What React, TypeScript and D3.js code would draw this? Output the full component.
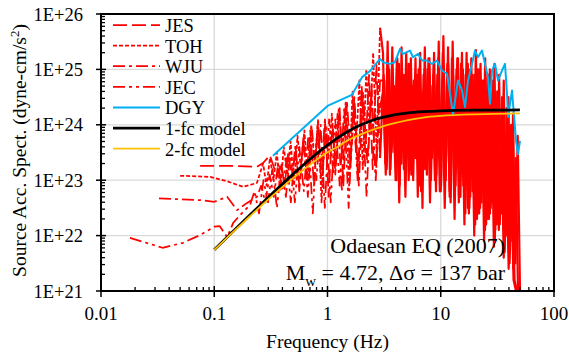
import React from 'react';
import * as d3 from 'd3';

const X_TICKS = [0.01, 0.1, 1, 10, 100];
const X_TICK_LABELS = ['0.01', '0.1', '1', '10', '100'];
const Y_TICKS = [1e21, 1e22, 1e23, 1e24, 1e25, 1e26];
const Y_TICK_LABELS = ['1E+21', '1E+22', '1E+23', '1E+24', '1E+25', '1E+26'];

const LEGEND_LABELS = ['JES', 'TOH', 'WJU', 'JEC', 'DGY', '1-fc model', '2-fc model'];

// ---- Observed spectra (log10 of amplitude) ----
// JES
const JES_TAIL_F = [0.075, 0.138, 0.238, 0.27, 0.31, 0.358];
const JES_TAIL_LOG = [23.26, 23.26, 23.24, 23.31, 23.45, 23.06];
const JES_LOW_RANGE = [0.388, 2.91];
const JES_LOW_LOG = [23.3, 22.9, 23.5, 23.0, 23.6, 22.8, 23.7, 23.1, 23.9, 22.9, 24.0, 23.2, 24.1, 22.7, 24.0, 23.3, 24.3, 22.9, 24.4, 23.4, 24.5, 23.0, 24.7, 23.5, 24.9, 23.2, 25.1, 23.4];
const JES_HIGH_RANGE = [3.13, 48.1];
const JES_HIGH_LOG = [
  24.9, 23.4, 25.1, 23.2, 24.7, 23.5, 25.2, 22.9, 24.9, 23.3,
  25.1, 23.0, 24.8, 23.4, 25.2, 22.7, 24.9, 23.3, 25.0, 23.1,
  24.9, 23.4, 25.1, 22.8, 24.9, 23.2, 25.3, 23.0, 25.1, 22.7,
  25.2, 23.0, 25.0, 22.6, 25.1, 22.9, 24.9, 22.5, 25.0, 22.8,
  24.9, 22.3, 25.0, 22.6, 24.8, 22.2, 24.9, 22.5, 24.8, 22.1,
  24.6, 22.3, 24.5, 21.9, 24.3, 21.7, 24.0, 21.4, 23.4, 21.0];

// TOH
const TOH_TAIL_F = [0.05, 0.092, 0.13, 0.18, 0.238];
const TOH_TAIL_LOG = [23.08, 23.06, 22.98, 22.88, 22.95];
const TOH_LOW_RANGE = [0.27, 2.91];
const TOH_LOW_LOG = [23.3, 22.9, 23.4, 23.0, 23.5, 22.8, 23.6, 23.1, 23.7, 22.9, 23.8, 23.2, 23.9, 23.0, 24.0, 23.3, 24.1, 22.6, 24.0, 23.4, 24.2, 23.1, 24.3, 23.5, 24.4, 22.9, 24.6, 23.6, 24.8, 23.2, 25.0, 23.8, 25.3, 23.5, 25.75];
const TOH_HIGH_RANGE = [3.09, 50.1];
const TOH_HIGH_LOG = [
  25.3, 23.3, 25.5, 23.1, 25.4, 23.5, 25.2, 22.6, 25.4, 23.2,
  25.3, 23.4, 25.2, 23.0, 24.9, 23.5, 25.3, 22.5, 25.4, 23.2,
  25.2, 23.4, 25.3, 23.1, 25.5, 22.9, 25.6, 23.0, 25.4, 22.7,
  25.5, 23.1, 25.2, 22.8, 25.3, 23.0, 25.3, 22.4, 25.2, 22.9,
  25.35, 22.4, 25.1, 22.8, 25.2, 22.3, 25.0, 22.6, 25.1, 22.2,
  24.9, 22.4, 24.8, 22.0, 24.5, 21.9, 24.2, 21.5, 23.8, 21.0];

// WJU
const WJU_TAIL_F = [0.0325, 0.075, 0.1, 0.13, 0.159, 0.195];
const WJU_TAIL_LOG = [22.67, 22.64, 22.61, 22.70, 22.46, 22.59];
const WJU_LOW_RANGE = [0.238, 2.91];
const WJU_LOW_LOG = [22.70, 22.9, 22.6, 23.1, 22.7, 23.3, 22.8, 23.4, 22.6, 23.6, 22.9, 23.8, 22.7, 23.9, 23.0, 24.0, 22.5, 24.1, 23.1, 24.2, 22.8, 24.3, 23.2, 24.4, 22.9, 24.6, 23.3, 24.7, 23.0, 24.8];
const WJU_HIGH_RANGE = [3.17, 47.1];
const WJU_HIGH_LOG = [
  24.8, 23.2, 25.0, 23.5, 24.7, 23.0, 25.1, 23.3, 24.9, 23.6,
  25.1, 23.1, 24.8, 23.4, 25.0, 22.8, 24.9, 23.3, 25.2, 23.0,
  24.9, 23.2, 25.2, 22.8, 25.0, 23.1, 25.1, 22.6, 24.9, 22.9,
  25.2, 22.7, 25.0, 22.4, 25.1, 22.7, 24.9, 22.2, 25.0, 22.5,
  24.8, 22.1, 24.9, 22.4, 24.6, 21.9, 24.6, 22.2, 24.2, 21.7,
  23.8, 21.5, 23.3, 21.2, 21.0];

// JEC
const JEC_TAIL_F = [0.018, 0.035, 0.053, 0.075, 0.1, 0.112, 0.13, 0.147, 0.169];
const JEC_TAIL_LOG = [21.96, 21.78, 21.87, 22.01, 22.16, 22.17, 21.97, 22.23, 22.37];
const JEC_LOW_RANGE = [0.207, 2.91];
const JEC_LOW_LOG = [22.55, 22.8, 22.4, 23.0, 22.6, 23.2, 22.5, 23.3, 22.7, 23.5, 22.6, 23.6, 22.8, 23.8, 22.4, 23.9, 22.9, 24.0, 22.6, 24.1, 22.9, 24.3, 22.5, 24.4, 23.0, 24.5, 22.7, 24.6, 23.1, 24.3];
const JEC_HIGH_RANGE = [3.11, 46.2];
const JEC_HIGH_LOG = [
  24.6, 23.1, 24.8, 23.4, 24.6, 23.0, 24.9, 23.3, 24.5, 22.7,
  24.8, 23.2, 24.7, 23.4, 24.9, 22.9, 24.6, 23.2, 25.0, 22.6,
  24.7, 23.0, 24.9, 22.8, 24.8, 22.5, 25.0, 22.8, 24.7, 22.3,
  24.9, 22.7, 24.8, 22.2, 25.0, 22.5, 24.7, 22.0, 24.8, 22.4,
  24.6, 21.9, 24.6, 22.3, 24.4, 21.8, 24.3, 22.1, 23.9, 21.6,
  23.6, 21.4, 23.0, 21.2, 21.0];

// DGY
const DGY_F = [0.33, 1.0, 1.64, 2.02, 2.37, 2.91, 3.09, 3.56, 3.94, 4.37, 4.64, 5.35, 5.69, 6.30, 6.83, 7.56, 8.37, 9.27, 10.26, 11.36, 12.07, 12.84, 13.37, 14.2, 15.41, 16.38, 17.41, 18.89, 20.06, 21.32, 23.12, 24.58, 26.13, 27.22, 28.37, 30.13, 32.04, 34.75, 36.92, 38.46, 39.27, 42.6, 43.5, 46.2, 48.1, 50.1];
const DGY_LOG = [23.44, 24.34, 24.54, 24.86, 24.97, 25.19, 25.13, 25.10, 25.13, 25.37, 25.28, 25.34, 25.22, 25.28, 25.16, 25.16, 25.10, 25.16, 24.98, 24.92, 24.56, 24.18, 24.43, 24.80, 24.62, 24.32, 24.80, 25.10, 25.34, 25.22, 25.34, 25.10, 24.86, 24.38, 24.98, 25.10, 24.80, 24.98, 25.10, 24.56, 24.14, 24.62, 24.38, 23.71, 23.47, 23.71];

// Models
const MODEL_F = [0.1, 0.15, 0.2, 0.3, 0.5, 0.7, 1, 1.2, 1.5, 2, 2.5, 3, 4, 5, 7, 10, 20, 30, 50];
const ONE_FC = [5.57e21, 1.25e22, 2.21e22, 4.9e22, 1.3e23, 2.39e23, 4.29e23, 5.61e23, 7.49e23, 1.01e24, 1.21e24, 1.35e24, 1.53e24, 1.63e24, 1.73e24, 1.79e24, 1.835e24, 1.84e24, 1.85e24];
const TWO_FC = [5.5e21, 1.22e22, 2.1e22, 4.5e22, 1.1e23, 1.9e23, 3.2e23, 3.9e23, 5.2e23, 6.8e23, 8.1e23, 9.2e23, 1.08e24, 1.2e24, 1.35e24, 1.45e24, 1.55e24, 1.58e24, 1.6e24];

const FONT = "'Liberation Serif', 'Times New Roman', Times, serif";
const RED = '#FF0000';
const BLUE = '#00B0F0';
const ORANGE = '#FFC000';

type Pt = { f: number; v: number };

function logGrid(range: number[], n: number): number[] {
  const [a, b] = range;
  return d3.range(n).map((i) => a * Math.pow(b / a, n > 1 ? i / (n - 1) : 0));
}

function station(tailF: number[], tailLog: number[], lowR: number[], lowLog: number[], highR: number[], highLog: number[]) {
  const low: Pt[] = [];
  tailF.forEach((f, i) => low.push({ f, v: Math.pow(10, tailLog[i]) }));
  logGrid(lowR, lowLog.length).forEach((f, i) => low.push({ f, v: Math.pow(10, lowLog[i]) }));
  const high: Pt[] = [low[low.length - 1]];
  logGrid(highR, highLog.length).forEach((f, i) => high.push({ f, v: Math.pow(10, highLog[i]) }));
  return { low, high };
}

const TXT: React.CSSProperties = { fontFamily: FONT };

export default function App() {
  const W = 569, H = 358;
  const L = 101, R = 554, T = 14, B = 291;
  const x = d3.scaleLog().domain([0.01, 100]).range([L, R]);
  const y = d3.scaleLog().domain([1e21, 1e26]).range([B, T]);
  const line = d3.line<Pt>().x((d) => x(d.f)).y((d) => y(d.v));
  const smooth = d3.line<Pt>().x((d) => x(d.f)).y((d) => y(d.v)).curve(d3.curveMonotoneX);

  const jes = station(JES_TAIL_F, JES_TAIL_LOG, JES_LOW_RANGE, JES_LOW_LOG, JES_HIGH_RANGE, JES_HIGH_LOG);
  const toh = station(TOH_TAIL_F, TOH_TAIL_LOG, TOH_LOW_RANGE, TOH_LOW_LOG, TOH_HIGH_RANGE, TOH_HIGH_LOG);
  const wju = station(WJU_TAIL_F, WJU_TAIL_LOG, WJU_LOW_RANGE, WJU_LOW_LOG, WJU_HIGH_RANGE, WJU_HIGH_LOG);
  const jec = station(JEC_TAIL_F, JEC_TAIL_LOG, JEC_LOW_RANGE, JEC_LOW_LOG, JEC_HIGH_RANGE, JEC_HIGH_LOG);
  const dgy: Pt[] = DGY_F.map((f, i) => ({ f, v: Math.pow(10, DGY_LOG[i]) }));
  const one: Pt[] = MODEL_F.map((f, i) => ({ f, v: ONE_FC[i] }));
  const two: Pt[] = MODEL_F.map((f, i) => ({ f, v: TWO_FC[i] }));

  const styles = [
    { stroke: RED, width: 1.75, dash: '14,5' },
    { stroke: RED, width: 1.75, dash: '4,2' },
    { stroke: RED, width: 1.75, dash: '12,4,3,4' },
    { stroke: RED, width: 1.75, dash: '12,4,3,4,3,4' },
    { stroke: BLUE, width: 2, dash: undefined },
    { stroke: '#000000', width: 2.75, dash: undefined },
    { stroke: ORANGE, width: 1.75, dash: undefined },
  ];
  const series = [jes, toh, wju, jec];

  const minorX: number[] = [];
  for (let e = -2; e < 2; e++) for (let k = 2; k <= 9; k++) minorX.push(k * Math.pow(10, e));
  const minorY: number[] = [];
  for (let e = 21; e < 26; e++) for (let k = 2; k <= 9; k++) minorY.push(k * Math.pow(10, e));

  return (
    <svg width={W} height={H} style={{ position: 'absolute', left: 0, top: 0, background: '#fff', fontFamily: FONT }}>
      <defs>
        <clipPath id="plotclip">
          <rect x={L} y={T} width={R - L} height={B - T} />
        </clipPath>
      </defs>
      <rect x={0} y={0} width={W} height={H} fill="#fff" />
      {X_TICKS.slice(1, -1).map((t) => (
        <line key={'gx' + t} x1={x(t)} x2={x(t)} y1={T} y2={B} stroke="#d9d9d9" strokeWidth={1.3} />
      ))}
      {Y_TICKS.slice(1, -1).map((t) => (
        <line key={'gy' + t} x1={L} x2={R} y1={y(t)} y2={y(t)} stroke="#d9d9d9" strokeWidth={1.3} />
      ))}
      <g clipPath="url(#plotclip)">
        {series.map((s, i) => (
          <g key={'s' + i}>
            <path d={line(s.low) || ''} fill="none" stroke={styles[i].stroke} strokeWidth={styles[i].width} strokeDasharray={styles[i].dash} strokeLinejoin="round" />
            <path d={line(s.high) || ''} fill="none" stroke={styles[i].stroke} strokeWidth={2.2} strokeLinejoin="round" />
          </g>
        ))}
        <path d={line(dgy) || ''} fill="none" stroke={BLUE} strokeWidth={2} strokeLinejoin="round" />
        <path d={smooth(one) || ''} fill="none" stroke="#000" strokeWidth={2.75} />
        <path d={smooth(two) || ''} fill="none" stroke={ORANGE} strokeWidth={1.75} />
      </g>
      <rect x={L} y={T} width={R - L} height={B - T} fill="none" stroke="#000" strokeWidth={2} />
      {minorX.map((t) => (
        <line key={'mx' + t} x1={x(t)} x2={x(t)} y1={B - 4} y2={B} stroke="#000" strokeWidth={1.3} />
      ))}
      {X_TICKS.map((t) => (
        <line key={'tx' + t} x1={x(t)} x2={x(t)} y1={B - 5} y2={B + 6} stroke="#000" strokeWidth={1.5} />
      ))}
      {minorY.map((t) => (
        <line key={'my' + t} x1={L} x2={L + 4} y1={y(t)} y2={y(t)} stroke="#000" strokeWidth={1.3} />
      ))}
      {Y_TICKS.map((t) => (
        <line key={'ty' + t} x1={L - 5} x2={L + 5} y1={y(t)} y2={y(t)} stroke="#000" strokeWidth={1.5} />
      ))}
      {X_TICKS.map((t, i) => (
        <text key={'lx' + t} style={TXT} x={x(t)} y={320} textAnchor="middle" fontSize={19} fill="#000">{X_TICK_LABELS[i]}</text>
      ))}
      {Y_TICKS.map((t, i) => (
        <text key={'ly' + t} style={TXT} x={83} y={y(t) + 6.5} textAnchor="end" fontSize={18.5} fill="#000">{Y_TICK_LABELS[i]}</text>
      ))}
      <text style={TXT} x={(L + R) / 2} y={348} textAnchor="middle" fontSize={19.5} fill="#000">Frequency (Hz)</text>
      <text style={TXT} transform={`translate(26,${(T + B) / 2 - 2}) rotate(-90)`} textAnchor="middle" fontSize={19.5} fill="#000">
        Source Acc. Spect. (dyne-cm/s<tspan baselineShift="super" fontSize={13}>2</tspan>)
      </text>
      {LEGEND_LABELS.map((lab, i) => {
        const ly = 25 + i * 20.6;
        const st = styles[i];
        return (
          <g key={'lg' + i}>
            <line x1={113} x2={160} y1={ly} y2={ly} stroke={st.stroke} strokeWidth={st.width} strokeDasharray={st.dash} />
            <text style={TXT} x={165} y={ly + 7} fontSize={18.5} fill="#000">{lab}</text>
          </g>
        );
      })}
      <text style={TXT} x={505} y={253} textAnchor="end" fontSize={22} fill="#000">Odaesan EQ (2007)</text>
      <text style={TXT} x={505} y={280} textAnchor="end" fontSize={22} fill="#000">
        M<tspan fontSize={15} dy={6}>w</tspan><tspan dy={-6}> = 4.72, Δσ = 137 bar</tspan>
      </text>
    </svg>
  );
}
